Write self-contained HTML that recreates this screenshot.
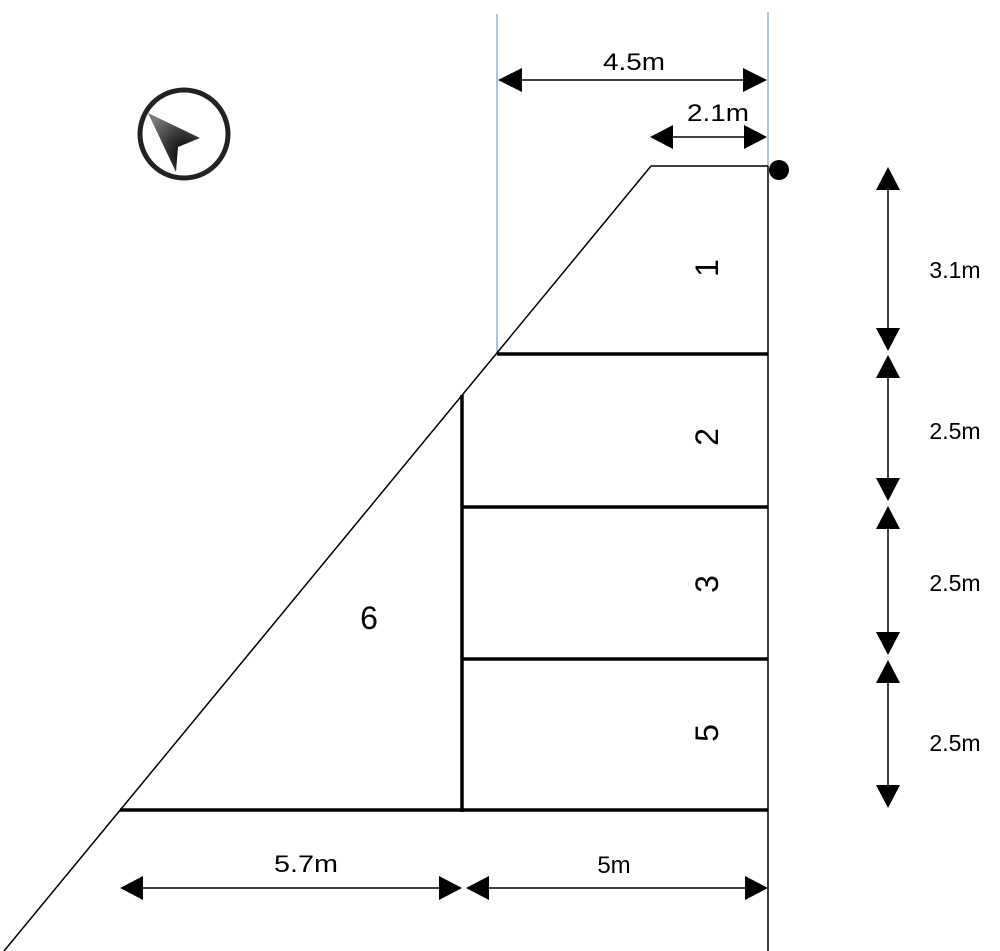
<!DOCTYPE html>
<html><head><style>body{margin:0;background:#fff}svg{display:block}text{font-family:"Liberation Sans",sans-serif;fill:#000}</style></head>
<body>
<svg width="1000" height="951" viewBox="0 0 1000 951" xmlns="http://www.w3.org/2000/svg">
<defs>
<radialGradient id="g" cx="0.7" cy="0.7" r="0.8"><stop offset="0" stop-color="#000"/><stop offset="1" stop-color="#777"/></radialGradient>
</defs>
<circle cx="184" cy="134" r="44" fill="none" stroke="#222" stroke-width="5"/>
<polygon points="148,113 200,138 178,147 176,172" fill="url(#g)"/>
<line x1="497" y1="14" x2="497" y2="353" stroke="#5a8fb0" stroke-width="1"/>
<line x1="768" y1="12" x2="768" y2="166" stroke="#5a8fb0" stroke-width="1"/>
<line x1="651" y1="166" x2="768" y2="166" stroke="#000" stroke-width="1.5"/>
<line x1="651" y1="166" x2="4" y2="951" stroke="#000" stroke-width="1.5"/>
<line x1="768" y1="166" x2="768" y2="951" stroke="#000" stroke-width="1.5"/>
<circle cx="779" cy="170" r="10" fill="#000"/>
<g stroke="#000" stroke-width="3.5">
<line x1="497" y1="354" x2="768" y2="354"/>
<line x1="462" y1="507" x2="768" y2="507"/>
<line x1="462" y1="659" x2="768" y2="659"/>
<line x1="120" y1="810" x2="768" y2="810"/>
<line x1="462" y1="395" x2="462" y2="812"/>
</g>
<g stroke="#000" stroke-width="1.5">
<line x1="510" y1="80" x2="755" y2="80"/>
<line x1="660" y1="137" x2="755" y2="137"/>
<line x1="130" y1="888" x2="450" y2="888"/>
<line x1="478" y1="888" x2="755" y2="888"/>
<line x1="888" y1="178" x2="888" y2="340"/>
<line x1="888" y1="365" x2="888" y2="490"/>
<line x1="888" y1="518" x2="888" y2="645"/>
<line x1="888" y1="672" x2="888" y2="798"/>
</g>
<g fill="#000">
<polygon points="498,80 522,68 522,92"/><polygon points="767,80 743,68 743,92"/>
<polygon points="650,137 673,125 673,149"/><polygon points="767,137 744,125 744,149"/>
<polygon points="120,888 143,876 143,900"/><polygon points="462,888 439,876 439,900"/>
<polygon points="466,888 489,876 489,900"/><polygon points="768,888 745,876 745,900"/>
<polygon points="888,167 876,190 900,190"/><polygon points="888,351 876,328 900,328"/>
<polygon points="888,355 876,378 900,378"/><polygon points="888,501 876,478 900,478"/>
<polygon points="888,506 876,529 900,529"/><polygon points="888,655 876,632 900,632"/>
<polygon points="888,660 876,683 900,683"/><polygon points="888,808 876,785 900,785"/>
</g>
<g font-size="24" text-anchor="middle">
<text x="634" y="70" textLength="62" lengthAdjust="spacingAndGlyphs">4.5m</text>
<text x="718" y="121" textLength="62" lengthAdjust="spacingAndGlyphs">2.1m</text>
<text x="306" y="872" textLength="64" lengthAdjust="spacingAndGlyphs">5.7m</text>
<text x="614" y="873">5m</text>
</g>
<g font-size="23" text-anchor="middle">
<text x="955" y="278">3.1m</text>
<text x="955" y="439">2.5m</text>
<text x="955" y="591">2.5m</text>
<text x="955" y="751">2.5m</text>
</g>
<g font-size="32" text-anchor="middle">
<text transform="translate(718,268) rotate(-90)">1</text>
<text transform="translate(718,437) rotate(-90)">2</text>
<text transform="translate(718,584) rotate(-90)">3</text>
<text transform="translate(718,733) rotate(-90)">5</text>
<text x="369" y="629">6</text>
</g>
</svg>
</body></html>
